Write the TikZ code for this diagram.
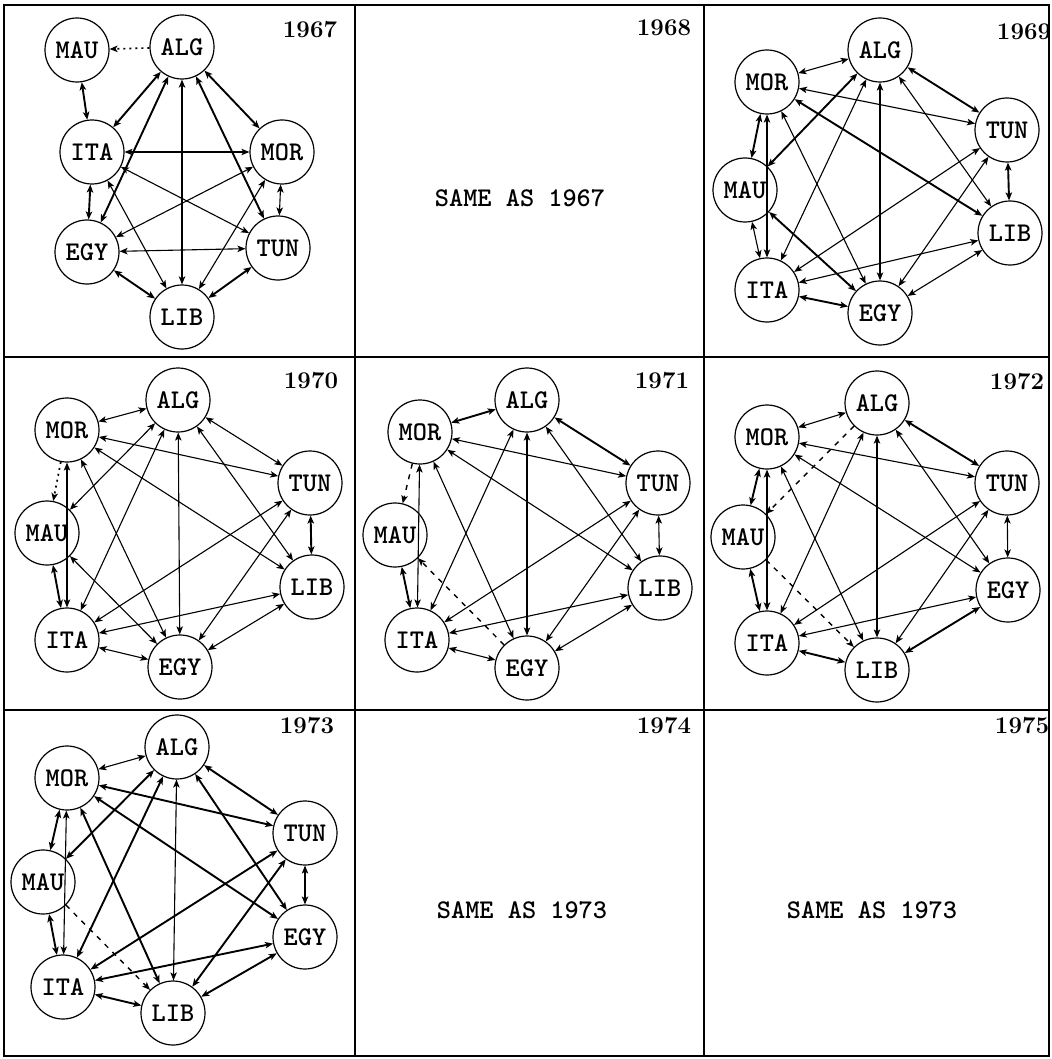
\documentclass[tikz,border=0pt]{standalone}
\usetikzlibrary{arrows.meta}
\newcommand{\lbl}{\ttfamily\bfseries\fontsize{27}{27}\selectfont}
\newcommand{\yrfont}{\rmfamily\bfseries\fontsize{24}{24}\selectfont}
\begin{document}
\begin{tikzpicture}[x=1pt,y=-1pt,
  >={Stealth[length=8pt,width=6.5pt,inset=2pt]},
  cn/.style={circle,draw,line width=1.2pt,minimum size=64pt,inner sep=0pt,font=\lbl,fill=white},
  ln/.style={<->,line width=1.1pt},
  lnb/.style={<->,line width=1.9pt},
  lndot/.style={->,line width=1.7pt,dash pattern=on 2pt off 4pt},
  lndash/.style={->,line width=1.4pt,dash pattern=on 5pt off 6pt},
  txt/.style={font=\lbl,inner sep=0pt},
  yr/.style={font=\yrfont,inner sep=0pt},
  frame/.style={line width=2.4pt}]
\useasboundingbox (0,0) rectangle (1051,1059);
\fill[white] (0,0) rectangle (1051,1059);

% grid of panels
\draw[frame] (4,5) rectangle (1049,1056);
\draw[frame] (355,5) -- (355,1056);
\draw[frame] (704,5) -- (704,1056);
\draw[frame] (4,357) -- (1049,357);
\draw[frame] (4,710) -- (1049,710);

% year labels and captions
\node[yr] (y67) at (310,30) {1967};
\node[yr] (y68) at (664,28) {1968};
\node[yr] (y69) at (1024,32) {1969};
\node[yr] (y70) at (311,381) {1970};
\node[yr] (y71) at (662,381) {1971};
\node[yr] (y72) at (1017,382) {1972};
\node[yr] (y73) at (307,726) {1973};
\node[yr] (y74) at (664,726) {1974};
\node[yr] (y75) at (1022,726) {1975};
\node[txt] (s68) at (520,198) {SAME AS 1967};
\node[txt] (s74) at (522,910) {SAME AS 1973};
\node[txt] (s75) at (872,910) {SAME AS 1973};

% ---------- 1967 ----------
\begin{scope}
\node[cn] (mau67) at (77,50) {MAU};
\node[cn] (alg67) at (182,47) {ALG};
\node[cn] (ita67) at (92,152) {ITA};
\node[cn] (mor67) at (282,152) {MOR};
\node[cn] (egy67) at (87,252) {EGY};
\node[cn] (tun67) at (278,248) {TUN};
\node[cn] (lib67) at (182,317) {LIB};
\draw[lndot] (alg67) -- (mau67);
\draw[lnb] (mau67) -- (ita67);
\draw[lnb] (alg67) -- (ita67);
\draw[lnb] (alg67) -- (egy67);
\draw[lnb] (alg67) -- (lib67);
\draw[lnb] (alg67) -- (tun67);
\draw[lnb] (alg67) -- (mor67);
\draw[ln] (ita67) -- (mor67);
\draw[ln] (ita67) -- (tun67);
\draw[lnb] (ita67) -- (egy67);
\draw[ln] (ita67) -- (lib67);
\draw[ln] (mor67) -- (egy67);
\draw[ln] (mor67) -- (tun67);
\draw[ln] (mor67) -- (lib67);
\draw[ln] (egy67) -- (tun67);
\draw[lnb] (egy67) -- (lib67);
\draw[lnb] (lib67) -- (tun67);
\end{scope}

% ---------- 1969 ----------
\begin{scope}
\node[cn] (alg69) at (880,50) {ALG};
\node[cn] (mor69) at (767,82) {MOR};
\node[cn] (tun69) at (1007,130) {TUN};
\node[cn] (mau69) at (745,190) {MAU};
\node[cn] (lib69) at (1010,233) {LIB};
\node[cn] (ita69) at (767,290) {ITA};
\node[cn] (egy69) at (880,313) {EGY};
\draw[ln] (mor69) -- (alg69);
\draw[lnb] (alg69) -- (tun69);
\draw[ln] (alg69) -- (lib69);
\draw[ln] (alg69) -- (egy69);
\draw[ln] (alg69) -- (ita69);
\draw[lnb] (alg69) -- (mau69);
\draw[ln] (mor69) -- (tun69);
\draw[lnb] (mor69) -- (lib69);
\draw[ln] (mor69) -- (egy69);
\draw[lnb] (mor69) -- (mau69);
\draw[ln] (mor69) -- (ita69);
\draw[ln] (mau69) -- (ita69);
\draw[lnb] (mau69) -- (egy69);
\draw[lnb] (tun69) -- (lib69);
\draw[ln] (tun69) -- (ita69);
\draw[ln] (tun69) -- (egy69);
\draw[ln] (lib69) -- (ita69);
\draw[ln] (lib69) -- (egy69);
\draw[lnb] (ita69) -- (egy69);
\end{scope}

% ---------- 1970 ----------
\begin{scope}
\node[cn] (alg70) at (178,400) {ALG};
\node[cn] (mor70) at (67,430) {MOR};
\node[cn] (tun70) at (310,483) {TUN};
\node[cn] (mau70) at (47,533) {MAU};
\node[cn] (lib70) at (312,587) {LIB};
\node[cn] (ita70) at (67,640) {ITA};
\node[cn] (egy70) at (180,667) {EGY};
\draw[ln] (mor70) -- (alg70);
\draw[ln] (alg70) -- (tun70);
\draw[ln] (alg70) -- (lib70);
\draw[ln] (alg70) -- (egy70);
\draw[ln] (alg70) -- (ita70);
\draw[ln] (alg70) -- (mau70);
\draw[ln] (mor70) -- (tun70);
\draw[ln] (mor70) -- (lib70);
\draw[ln] (mor70) -- (egy70);
\draw[lndot] (mor70) -- (mau70);
\draw[ln] (mor70) -- (ita70);
\draw[lnb] (mau70) -- (ita70);
\draw[ln] (mau70) -- (egy70);
\draw[lnb] (tun70) -- (lib70);
\draw[ln] (tun70) -- (ita70);
\draw[ln] (tun70) -- (egy70);
\draw[ln] (lib70) -- (ita70);
\draw[ln] (lib70) -- (egy70);
\draw[ln] (ita70) -- (egy70);
\end{scope}

% ---------- 1971 ----------
\begin{scope}
\node[cn] (alg71) at (527,400) {ALG};
\node[cn] (mor71) at (420,432) {MOR};
\node[cn] (tun71) at (658,483) {TUN};
\node[cn] (mau71) at (395,535) {MAU};
\node[cn] (lib71) at (660,588) {LIB};
\node[cn] (ita71) at (417,640) {ITA};
\node[cn] (egy71) at (527,668) {EGY};
\draw[lnb] (mor71) -- (alg71);
\draw[lnb] (alg71) -- (tun71);
\draw[ln] (alg71) -- (lib71);
\draw[ln] (alg71) -- (egy71);
\draw[ln] (alg71) -- (ita71);
\draw[ln] (mor71) -- (tun71);
\draw[ln] (mor71) -- (lib71);
\draw[ln] (mor71) -- (egy71);
\draw[lndash] (mor71) -- (mau71);
\draw[ln] (mor71) -- (ita71);
\draw[lnb] (mau71) -- (ita71);
\draw[lndash] (egy71) -- (mau71);
\draw[ln] (tun71) -- (lib71);
\draw[ln] (tun71) -- (ita71);
\draw[ln] (tun71) -- (egy71);
\draw[ln] (lib71) -- (ita71);
\draw[ln] (lib71) -- (egy71);
\draw[ln] (ita71) -- (egy71);
\end{scope}

% ---------- 1972 ----------
\begin{scope}
\node[cn] (alg72) at (877,403) {ALG};
\node[cn] (mor72) at (767,437) {MOR};
\node[cn] (tun72) at (1007,483) {TUN};
\node[cn] (mau72) at (743,537) {MAU};
\node[cn] (egy72) at (1008,590) {EGY};
\node[cn] (ita72) at (767,643) {ITA};
\node[cn] (lib72) at (877,670) {LIB};
\draw[ln] (mor72) -- (alg72);
\draw[lnb] (alg72) -- (tun72);
\draw[ln] (alg72) -- (egy72);
\draw[ln] (alg72) -- (lib72);
\draw[ln] (alg72) -- (ita72);
\draw[lndash] (alg72) -- (mau72);
\draw[ln] (mor72) -- (tun72);
\draw[ln] (mor72) -- (egy72);
\draw[ln] (mor72) -- (lib72);
\draw[lnb] (mor72) -- (mau72);
\draw[lnb] (mor72) -- (ita72);
\draw[lnb] (mau72) -- (ita72);
\draw[lndash] (mau72) -- (lib72);
\draw[ln] (tun72) -- (egy72);
\draw[ln] (tun72) -- (ita72);
\draw[ln] (tun72) -- (lib72);
\draw[ln] (egy72) -- (ita72);
\draw[lnb] (egy72) -- (lib72);
\draw[lnb] (ita72) -- (lib72);
\end{scope}

% ---------- 1973 ----------
\begin{scope}
\node[cn] (alg73) at (177,747) {ALG};
\node[cn] (mor73) at (67,778) {MOR};
\node[cn] (tun73) at (305,833) {TUN};
\node[cn] (mau73) at (43,882) {MAU};
\node[cn] (egy73) at (305,937) {EGY};
\node[cn] (ita73) at (63,987) {ITA};
\node[cn] (lib73) at (173,1013) {LIB};
\draw[ln] (mor73) -- (alg73);
\draw[lnb] (alg73) -- (tun73);
\draw[lnb] (alg73) -- (egy73);
\draw[ln] (alg73) -- (lib73);
\draw[lnb] (alg73) -- (ita73);
\draw[lnb] (alg73) -- (mau73);
\draw[lnb] (mor73) -- (tun73);
\draw[lnb] (mor73) -- (egy73);
\draw[lnb] (mor73) -- (lib73);
\draw[lnb] (mor73) -- (mau73);
\draw[ln] (mor73) -- (ita73);
\draw[lnb] (mau73) -- (ita73);
\draw[lndash] (mau73) -- (lib73);
\draw[ln] (tun73) -- (egy73);
\draw[lnb] (tun73) -- (ita73);
\draw[lnb] (tun73) -- (lib73);
\draw[lnb] (egy73) -- (ita73);
\draw[lnb] (egy73) -- (lib73);
\draw[lnb] (ita73) -- (lib73);
\end{scope}
\end{tikzpicture}
\end{document}
